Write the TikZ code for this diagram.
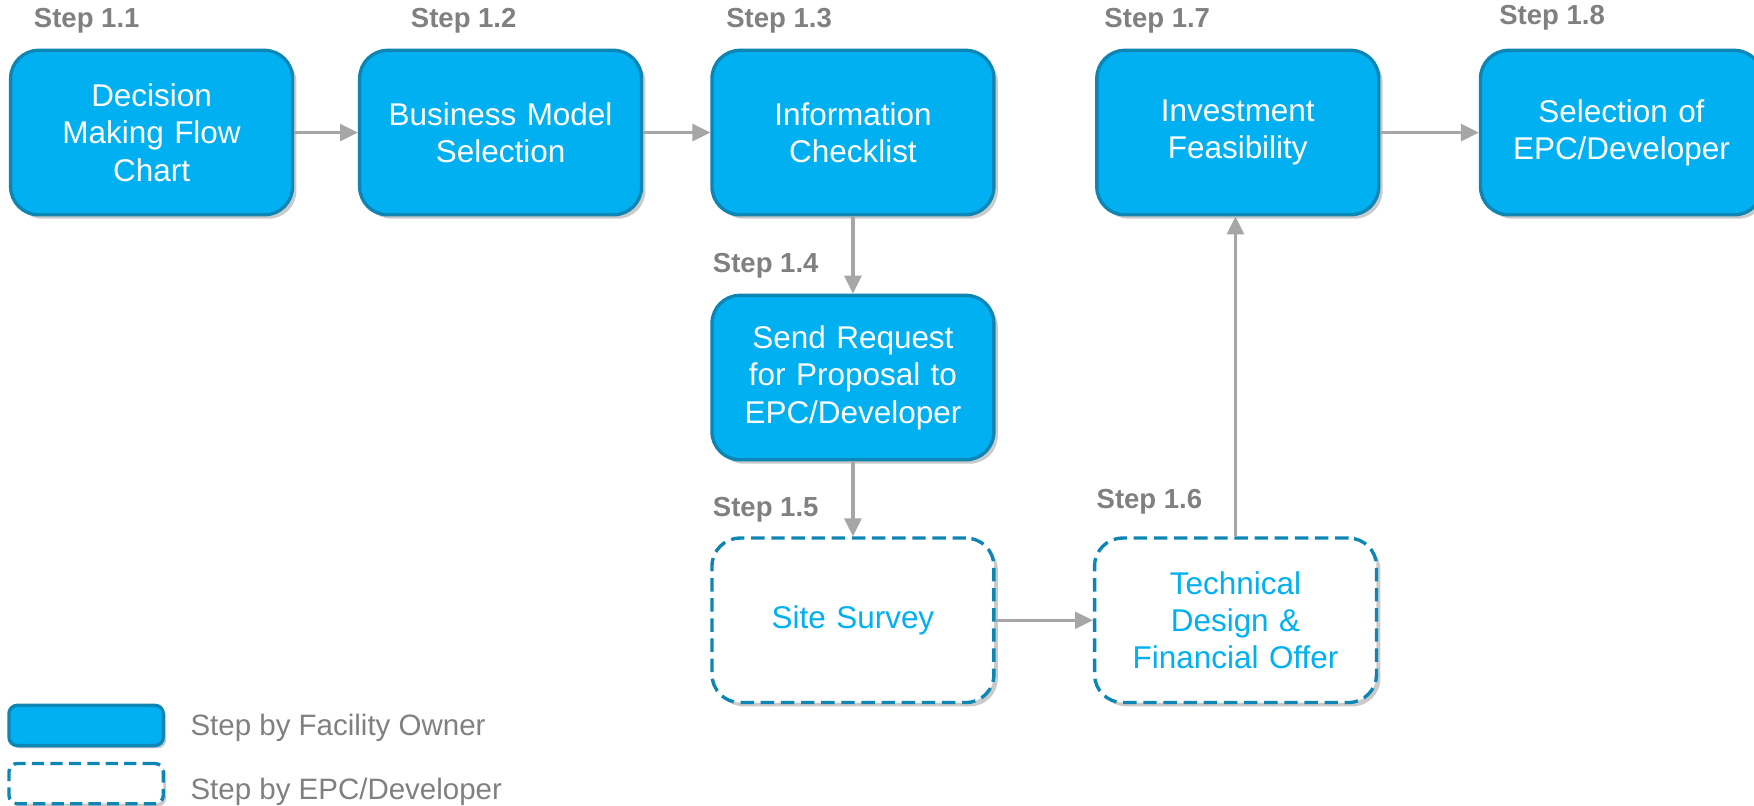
\documentclass[tikz,border=0pt]{standalone}
\usepackage{fontspec}
\setmainfont{Liberation Sans}
\usetikzlibrary{arrows.meta, positioning, shadows}
\definecolor{ownerblue}{HTML}{00B0F0}
\definecolor{edgeblue}{HTML}{0E86B4}
\definecolor{arrowgray}{HTML}{A6A6A6}
\definecolor{labelgray}{HTML}{808080}
\tikzstyle{line} = [draw=arrowgray, line width=0.06cm, -{Triangle[length=0.32cm,width=0.3cm]}]

\begin{document}
\begin{tikzpicture}[auto, node distance=1.4cm and 1.2cm, >=Stealth]
  % Define styles
  \tikzstyle{owner} = [rectangle, rounded corners=0.5cm, minimum width=5.04cm, minimum height=2.94cm, text width=4.6cm, align=center, draw=edgeblue, line width=0.06cm, fill=ownerblue, text=white, font=\fontsize{16}{19}\selectfont, drop shadow={shadow xshift=0.07cm, shadow yshift=-0.07cm, opacity=0.35, fill=black!60}]
  \tikzstyle{developer} = [owner, fill=white, text=ownerblue, dash pattern=on 0.24cm off 0.12cm]
  \tikzstyle{steplabel} = [anchor=west, inner sep=0pt, text=labelgray, font=\fontsize{14}{16}\selectfont\bfseries]
  \tikzstyle{legendbox} = [rectangle, rounded corners=0.15cm, minimum width=2.76cm, minimum height=0.72cm, draw=edgeblue, line width=0.06cm, drop shadow={shadow xshift=0.05cm, shadow yshift=-0.05cm, opacity=0.35, fill=black!60}]
  \tikzstyle{legendtext} = [anchor=west, inner sep=0pt, text=labelgray, font=\fontsize{15}{18}\selectfont]

  \useasboundingbox (0,0) rectangle (31.36,-14.4);

  % Place nodes
  \node [owner] (s11) at (2.71,-2.37) {Decision\\Making Flow\\Chart};
  \node [owner, right=1.14cm of s11] (s12) {Business Model\\Selection};
  \node [owner, right=1.2cm of s12] (s13) {Information\\Checklist};
  \node [owner, below=1.38cm of s13] (s14) {Send Request\\for Proposal to\\EPC/Developer};
  \node [developer, below=1.34cm of s14] (s15) {Site Survey};
  \node [developer, right=1.74cm of s15] (s16) {Technical\\Design \&\\Financial Offer};
  \node [owner, right=1.78cm of s13] (s17) {Investment\\Feasibility};
  \node [owner, right=1.76cm of s17] (s18) {Selection of\\EPC/Developer};

  % Step labels
  \node [steplabel] (l11) at ([shift={(0.44,0.5)}]s11.north west) {Step 1.1};
  \node [steplabel] (l12) at ([shift={(0.94,0.5)}]s12.north west) {Step 1.2};
  \node [steplabel] (l13) at ([shift={(0.28,0.5)}]s13.north west) {Step 1.3};
  \node [steplabel] (l14) at ([shift={(0.04,0.5)}]s14.north west) {Step 1.4};
  \node [steplabel] (l15) at ([shift={(0.04,0.48)}]s15.north west) {Step 1.5};
  \node [steplabel] (l16) at ([shift={(0.06,0.62)}]s16.north west) {Step 1.6};
  \node [steplabel] (l17) at ([shift={(0.16,0.5)}]s17.north west) {Step 1.7};
  \node [steplabel] (l18) at ([shift={(0.36,0.56)}]s18.north west) {Step 1.8};

  % Legend
  \node [legendbox, fill=ownerblue] (owner key) at (1.54,-12.97) {};
  \node [legendbox, fill=white, dash pattern=on 0.22cm off 0.11cm] (developer key) at (1.54,-14.01) {};
  \node [legendtext] (owner text) at (3.4,-13.02) {Step by Facility Owner};
  \node [legendtext] (developer text) at (3.4,-14.16) {Step by EPC/Developer};

  % Draw edges
  \path [line] (s11) -- (s12);
  \path [line] (s12) -- (s13);
  \path [line] (s13) -- (s14);
  \path [line] (s14) -- (s15);
  \path [line] (s15) -- (s16);
  \path [line] (s16.north) -- (s16.north |- s17.south);
  \path [line] (s17) -- (s18);
\end{tikzpicture}
\end{document}
